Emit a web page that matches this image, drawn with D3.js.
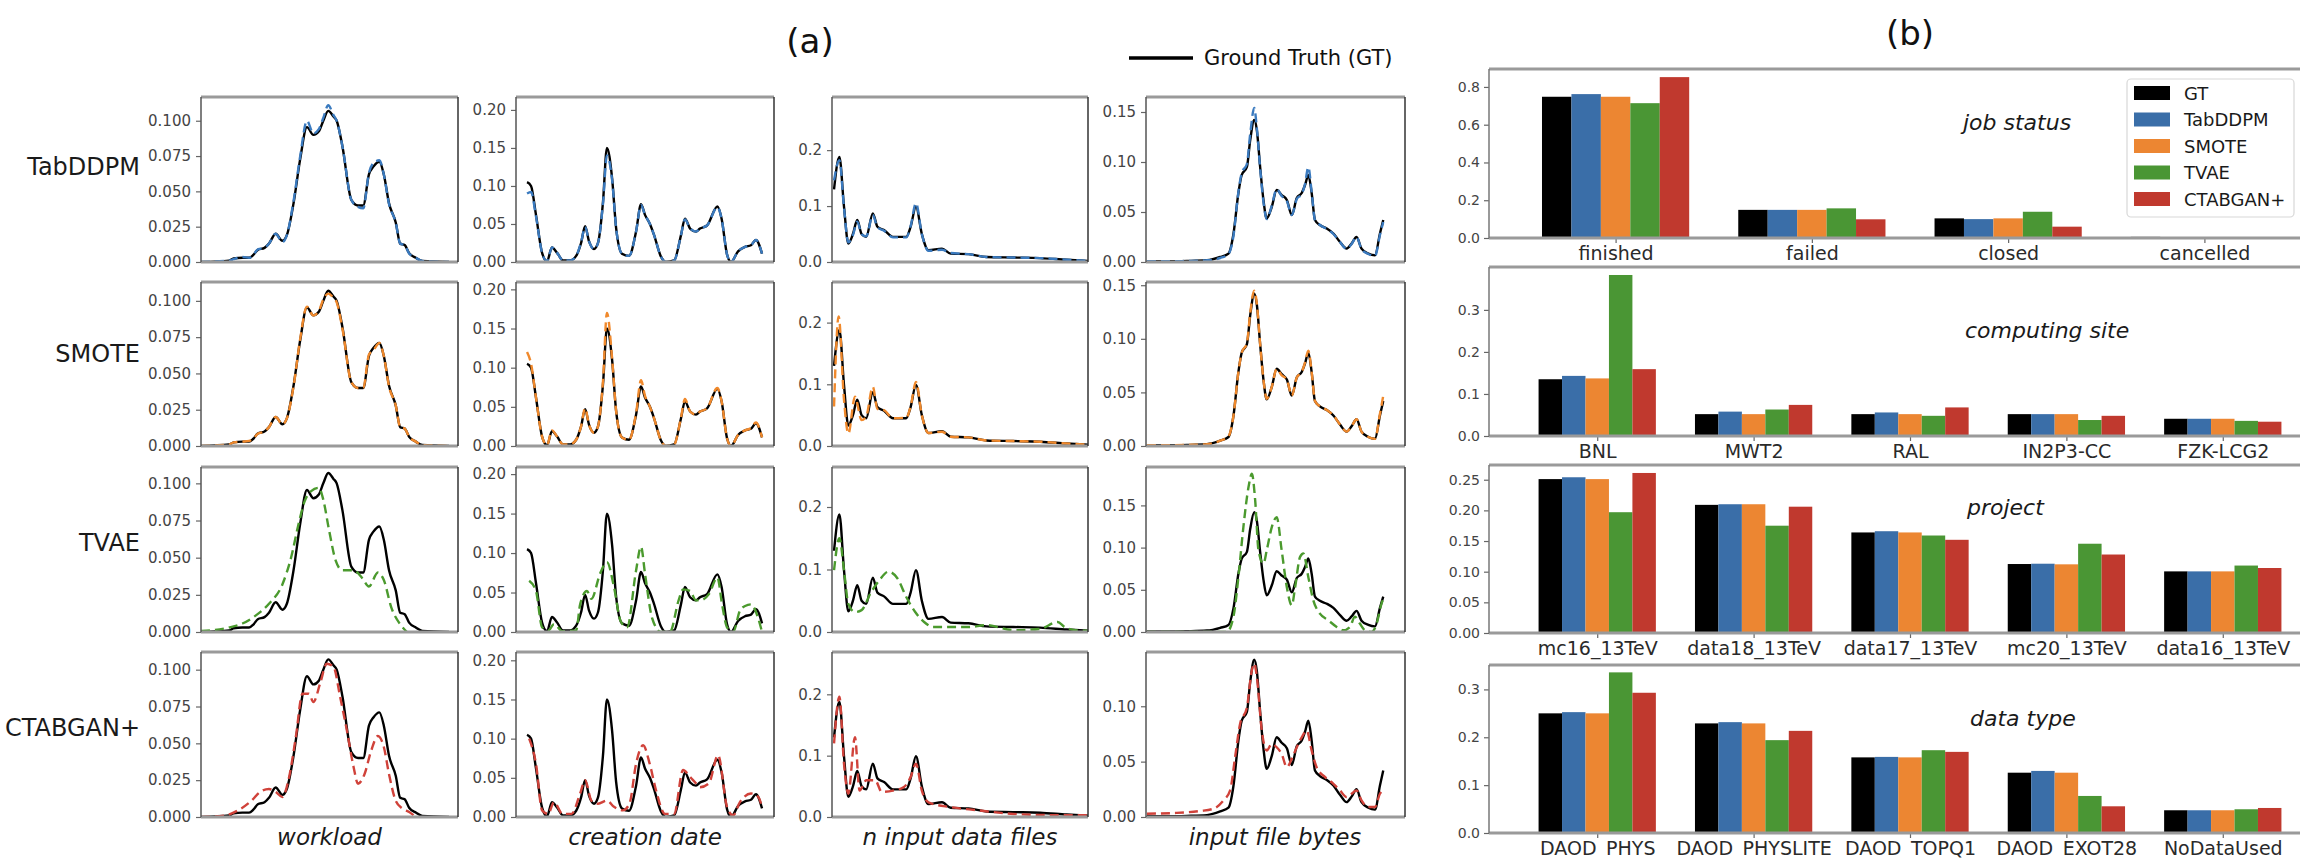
<!DOCTYPE html>
<html><head><meta charset="utf-8">
<script src="https://cdn.jsdelivr.net/npm/d3@7"></script>
<style>
body{margin:0;background:#fff;}
svg{display:block;font-family:"DejaVu Sans",sans-serif;}
</style></head><body>
<svg id="chart" width="2300" height="858"></svg>
<script>
// ---------------- DATA ----------------
const models = ["GT","TabDDPM","SMOTE","TVAE","CTABGAN+"];
const rowModels = ["TabDDPM","SMOTE","TVAE","CTABGAN+"];
const features = ["workload","creation date","n input data files","input file bytes"];

// (a) KDE curves: [normalized x, density]
const wlGT = [[0,0],[0.113,0.001],[0.131,0.0025],[0.167,0.003],[0.194,0.003],[0.211,0.005],[0.229,0.0086],[0.256,0.010],[0.274,0.013],[0.301,0.020],[0.328,0.015],[0.346,0.019],[0.373,0.0415],[0.400,0.073],[0.427,0.0955],[0.453,0.090],[0.475,0.0925],[0.493,0.100],[0.513,0.107],[0.534,0.103],[0.547,0.100],[0.570,0.082],[0.606,0.044],[0.633,0.040],[0.654,0.040],[0.677,0.062],[0.695,0.0675],[0.719,0.071],[0.737,0.062],[0.758,0.0415],[0.785,0.028],[0.803,0.013],[0.821,0.012],[0.839,0.0063],[0.866,0.003],[0.892,0.0007],[1.0,0]];
const wlTab = [[0,0],[0.113,0.001],[0.131,0.002],[0.167,0.0035],[0.194,0.003],[0.211,0.005],[0.229,0.009],[0.256,0.010],[0.274,0.013],[0.301,0.020],[0.328,0.014],[0.346,0.019],[0.373,0.043],[0.400,0.075],[0.427,0.100],[0.453,0.091],[0.475,0.094],[0.493,0.102],[0.513,0.111],[0.534,0.104],[0.547,0.100],[0.570,0.082],[0.606,0.044],[0.633,0.039],[0.654,0.038],[0.677,0.063],[0.695,0.070],[0.719,0.072],[0.737,0.062],[0.758,0.041],[0.785,0.028],[0.803,0.013],[0.821,0.012],[0.839,0.006],[0.866,0.003],[0.892,0.0007],[1.0,0]];
const wlSmote = [[0,0],[0.113,0.001],[0.131,0.0025],[0.167,0.003],[0.194,0.0035],[0.211,0.005],[0.229,0.0085],[0.256,0.010],[0.274,0.013],[0.301,0.020],[0.328,0.015],[0.346,0.019],[0.373,0.041],[0.400,0.074],[0.427,0.096],[0.453,0.090],[0.475,0.093],[0.493,0.101],[0.513,0.105],[0.534,0.102],[0.547,0.099],[0.570,0.081],[0.606,0.044],[0.633,0.040],[0.654,0.040],[0.677,0.063],[0.695,0.066],[0.719,0.071],[0.737,0.062],[0.758,0.041],[0.785,0.028],[0.803,0.013],[0.821,0.012],[0.839,0.0063],[0.866,0.003],[0.892,0.0007],[1.0,0]];
const wlTvae = [[0,0.0007],[0.113,0.003],[0.167,0.0057],[0.220,0.011],[0.274,0.019],[0.328,0.032],[0.364,0.0506],[0.391,0.071],[0.418,0.088],[0.444,0.0948],[0.475,0.097],[0.493,0.089],[0.516,0.0687],[0.543,0.048],[0.570,0.0415],[0.615,0.0415],[0.651,0.036],[0.677,0.0306],[0.713,0.040],[0.737,0.035],[0.767,0.0166],[0.803,0.0052],[0.830,0]];
const wlCtab = [[0,0],[0.095,0.001],[0.149,0.0045],[0.203,0.011],[0.238,0.017],[0.274,0.019],[0.301,0.017],[0.328,0.0136],[0.355,0.027],[0.382,0.054],[0.409,0.0837],[0.435,0.0837],[0.453,0.078],[0.480,0.0905],[0.507,0.104],[0.534,0.102],[0.561,0.0814],[0.588,0.0588],[0.615,0.034],[0.633,0.0226],[0.659,0.029],[0.686,0.045],[0.713,0.055],[0.737,0.0475],[0.758,0.029],[0.785,0.011],[0.812,0.0057],[0.839,0.0034],[0.866,0]];

const cdGT = [[0,0.105],[0.017,0.100],[0.038,0.062],[0.064,0.012],[0.085,0.001],[0.106,0.019],[0.128,0.012],[0.153,0.002],[0.183,0.002],[0.209,0.008],[0.230,0.025],[0.247,0.047],[0.264,0.027],[0.285,0.017],[0.302,0.025],[0.323,0.078],[0.340,0.150],[0.362,0.110],[0.379,0.045],[0.404,0.011],[0.434,0.008],[0.464,0.040],[0.485,0.076],[0.502,0.062],[0.523,0.050],[0.540,0.036],[0.570,0.007],[0.591,0.000],[0.626,0.002],[0.655,0.035],[0.672,0.057],[0.694,0.044],[0.719,0.040],[0.736,0.044],[0.766,0.048],[0.810,0.073],[0.828,0.057],[0.851,0.010],[0.868,0.000],[0.898,0.014],[0.928,0.020],[0.953,0.022],[0.974,0.029],[1.0,0.011]];
const cdTab = [[0,0.090],[0.017,0.092],[0.038,0.060],[0.064,0.012],[0.085,0.001],[0.106,0.019],[0.128,0.012],[0.153,0.002],[0.183,0.002],[0.209,0.008],[0.230,0.026],[0.247,0.046],[0.264,0.027],[0.285,0.017],[0.302,0.025],[0.323,0.076],[0.340,0.140],[0.362,0.108],[0.379,0.045],[0.404,0.011],[0.434,0.008],[0.464,0.040],[0.485,0.075],[0.502,0.062],[0.523,0.050],[0.540,0.036],[0.570,0.007],[0.591,0.000],[0.626,0.002],[0.655,0.035],[0.672,0.056],[0.694,0.044],[0.719,0.040],[0.736,0.044],[0.766,0.048],[0.810,0.072],[0.828,0.057],[0.851,0.010],[0.868,0.000],[0.898,0.014],[0.928,0.020],[0.953,0.022],[0.974,0.029],[1.0,0.011]];
const cdSmote = [[0,0.120],[0.017,0.105],[0.038,0.062],[0.064,0.012],[0.085,0.001],[0.106,0.020],[0.128,0.012],[0.153,0.002],[0.183,0.002],[0.209,0.008],[0.230,0.025],[0.247,0.048],[0.264,0.027],[0.285,0.017],[0.302,0.025],[0.323,0.082],[0.340,0.170],[0.362,0.112],[0.379,0.045],[0.404,0.011],[0.434,0.008],[0.464,0.042],[0.485,0.084],[0.502,0.064],[0.523,0.050],[0.540,0.036],[0.570,0.007],[0.591,0.000],[0.626,0.002],[0.655,0.036],[0.672,0.060],[0.694,0.044],[0.719,0.040],[0.736,0.044],[0.766,0.048],[0.810,0.074],[0.828,0.057],[0.851,0.010],[0.868,0.000],[0.898,0.014],[0.928,0.020],[0.953,0.023],[0.974,0.030],[1.0,0.011]];
const cdTvae = [[0.009,0.065],[0.038,0.052],[0.064,0.006],[0.090,0.002],[0.115,0.010],[0.151,0.001],[0.209,0.002],[0.226,0.035],[0.255,0.052],[0.274,0.042],[0.311,0.074],[0.340,0.0885],[0.370,0.057],[0.398,0.014],[0.426,0.006],[0.464,0.078],[0.485,0.108],[0.502,0.074],[0.532,0.018],[0.570,0.000],[0.608,0.000],[0.645,0.040],[0.664,0.054],[0.694,0.052],[0.719,0.040],[0.736,0.040],[0.774,0.048],[0.810,0.069],[0.830,0.035],[0.851,0.006],[0.877,0.000],[0.906,0.027],[0.928,0.033],[0.953,0.035],[0.983,0.018],[1.0,0.000]];
const cdCtab = [[0.009,0.100],[0.038,0.068],[0.064,0.0085],[0.090,0.004],[0.115,0.019],[0.151,0.004],[0.189,0.004],[0.226,0.030],[0.247,0.047],[0.274,0.021],[0.302,0.017],[0.340,0.021],[0.370,0.013],[0.408,0.0085],[0.436,0.017],[0.464,0.068],[0.494,0.0915],[0.522,0.068],[0.549,0.034],[0.587,0.004],[0.626,0.004],[0.664,0.060],[0.694,0.051],[0.719,0.043],[0.736,0.038],[0.774,0.043],[0.813,0.079],[0.851,0.013],[0.877,0.002],[0.906,0.019],[0.953,0.030],[0.983,0.026],[1.0,0.013]];

const nfGT = [[0.005,0.13],[0.026,0.188],[0.044,0.099],[0.061,0.033],[0.079,0.050],[0.096,0.075],[0.113,0.050],[0.131,0.045],[0.157,0.087],[0.175,0.063],[0.201,0.057],[0.236,0.045],[0.288,0.045],[0.305,0.063],[0.326,0.099],[0.349,0.050],[0.375,0.021],[0.428,0.024],[0.462,0.015],[0.532,0.014],[0.602,0.009],[0.707,0.008],[0.812,0.007],[0.916,0.004],[1.0,0.002]];
const nfTab = [[0.005,0.146],[0.026,0.182],[0.044,0.097],[0.061,0.035],[0.079,0.048],[0.096,0.072],[0.113,0.050],[0.131,0.046],[0.157,0.084],[0.175,0.062],[0.201,0.056],[0.236,0.044],[0.288,0.044],[0.305,0.064],[0.326,0.105],[0.349,0.050],[0.375,0.020],[0.428,0.022],[0.462,0.016],[0.532,0.014],[0.602,0.009],[0.707,0.008],[0.812,0.007],[0.916,0.004],[1.0,0.002]];
const nfSmote = [[0.005,0.064],[0.023,0.210],[0.044,0.075],[0.061,0.020],[0.087,0.080],[0.113,0.042],[0.131,0.048],[0.157,0.096],[0.175,0.060],[0.201,0.058],[0.236,0.045],[0.288,0.046],[0.305,0.064],[0.326,0.104],[0.349,0.050],[0.375,0.021],[0.428,0.023],[0.462,0.015],[0.532,0.014],[0.602,0.009],[0.707,0.008],[0.812,0.007],[0.916,0.004],[1.0,0.002]];
const nfTvae = [[0.005,0.099],[0.026,0.150],[0.044,0.099],[0.061,0.045],[0.087,0.032],[0.113,0.035],[0.148,0.062],[0.183,0.083],[0.218,0.0965],[0.253,0.086],[0.288,0.056],[0.323,0.032],[0.358,0.016],[0.393,0.008],[0.532,0.008],[0.602,0.011],[0.707,0.003],[0.812,0.005],[0.881,0.016],[0.908,0.008],[0.951,0.003],[1.0,0.002]];
const nfCtab = [[0.005,0.120],[0.026,0.196],[0.044,0.087],[0.061,0.038],[0.087,0.130],[0.105,0.043],[0.131,0.060],[0.166,0.060],[0.192,0.041],[0.236,0.043],[0.279,0.049],[0.305,0.065],[0.326,0.087],[0.349,0.043],[0.375,0.024],[0.462,0.016],[0.567,0.011],[0.707,0.005],[0.881,0.003],[1.0,0.003]];

const fbGT = [[0,0.0007],[0.085,0.0007],[0.169,0.001],[0.254,0.0017],[0.310,0.005],[0.345,0.0084],[0.366,0.028],[0.387,0.069],[0.401,0.087],[0.423,0.095],[0.437,0.122],[0.454,0.142],[0.465,0.132],[0.479,0.095],[0.493,0.062],[0.507,0.0435],[0.528,0.055],[0.549,0.072],[0.570,0.067],[0.592,0.062],[0.613,0.047],[0.634,0.064],[0.655,0.069],[0.669,0.077],[0.683,0.087],[0.697,0.069],[0.711,0.042],[0.732,0.037],[0.761,0.0335],[0.789,0.0285],[0.817,0.020],[0.845,0.0134],[0.866,0.0184],[0.887,0.025],[0.908,0.0134],[0.937,0.0084],[0.965,0.0067],[0.986,0.0285],[1.0,0.042]];
const fbTab = [[0,0.0007],[0.085,0.0007],[0.169,0.001],[0.254,0.0017],[0.310,0.004],[0.345,0.008],[0.366,0.026],[0.387,0.070],[0.401,0.089],[0.423,0.098],[0.437,0.128],[0.454,0.154],[0.465,0.134],[0.479,0.094],[0.493,0.060],[0.507,0.043],[0.528,0.056],[0.549,0.073],[0.570,0.066],[0.592,0.061],[0.613,0.047],[0.634,0.063],[0.655,0.068],[0.669,0.078],[0.683,0.095],[0.697,0.070],[0.711,0.042],[0.732,0.037],[0.761,0.033],[0.789,0.028],[0.817,0.020],[0.845,0.013],[0.866,0.018],[0.887,0.025],[0.908,0.013],[0.937,0.008],[0.965,0.006],[0.986,0.027],[1.0,0.040]];
const fbSmote = [[0,0.0007],[0.085,0.0007],[0.169,0.001],[0.254,0.0017],[0.310,0.005],[0.345,0.009],[0.366,0.028],[0.387,0.069],[0.401,0.087],[0.423,0.096],[0.437,0.124],[0.454,0.145],[0.465,0.133],[0.479,0.095],[0.493,0.062],[0.507,0.044],[0.528,0.055],[0.549,0.072],[0.570,0.066],[0.592,0.062],[0.613,0.047],[0.634,0.064],[0.655,0.069],[0.669,0.078],[0.683,0.089],[0.697,0.069],[0.711,0.042],[0.732,0.037],[0.761,0.0335],[0.789,0.0285],[0.817,0.020],[0.845,0.0134],[0.866,0.0184],[0.887,0.025],[0.908,0.0134],[0.937,0.0084],[0.965,0.0067],[0.986,0.030],[1.0,0.047]];
const fbTvae = [[0,0],[0.225,0],[0.338,0],[0.366,0.018],[0.387,0.065],[0.408,0.124],[0.430,0.172],[0.444,0.1875],[0.458,0.156],[0.472,0.097],[0.493,0.081],[0.507,0.097],[0.528,0.124],[0.549,0.136],[0.570,0.097],[0.592,0.053],[0.613,0.0316],[0.627,0.053],[0.648,0.089],[0.662,0.093],[0.683,0.065],[0.704,0.0375],[0.732,0.0217],[0.768,0.0138],[0.803,0.006],[0.831,0.002],[0.859,0.006],[0.880,0.018],[0.901,0.010],[0.923,0.002],[0.951,0],[0.972,0.010],[0.993,0.034],[1.0,0.039]];
const fbCtab = [[0,0.003],[0.113,0.0036],[0.225,0.0054],[0.282,0.0075],[0.324,0.015],[0.352,0.024],[0.373,0.054],[0.394,0.084],[0.423,0.099],[0.444,0.1325],[0.454,0.1386],[0.465,0.1265],[0.486,0.078],[0.507,0.060],[0.528,0.066],[0.549,0.063],[0.570,0.057],[0.592,0.045],[0.613,0.0527],[0.634,0.063],[0.655,0.072],[0.676,0.078],[0.697,0.060],[0.718,0.045],[0.754,0.036],[0.789,0.030],[0.817,0.024],[0.845,0.018],[0.866,0.021],[0.887,0.024],[0.908,0.015],[0.937,0.009],[0.965,0.009],[0.986,0.021],[1.0,0.024]];

// y-axis upper limits per row (model) and column (feature)
const yMaxA = [
  [0.1168, 0.217, 0.295, 0.165],
  [0.113, 0.2094, 0.2658, 0.153],
  [0.111, 0.209, 0.264, 0.1955],
  [0.112, 0.2106, 0.269, 0.149]
];
const yTicksA = [[0,0.025,0.05,0.075,0.1],[0,0.05,0.1,0.15,0.2],[0,0.1,0.2],[0,0.05,0.1,0.15]];
const yFmtA = [".3f",".2f",".1f",".2f"];
const xDomA = [[0,1.036],[-0.047,1.051],[-0.003,1.0],[-0.004,1.092]];

// (b) category proportions
const jobCats = ["finished","failed","closed","cancelled"];
const jobGT    = [0.748, 0.149, 0.104, 0.006];
const jobTab   = [0.762, 0.149, 0.100, 0.004];
const jobSmote = [0.748, 0.149, 0.104, 0.005];
const jobTvae  = [0.714, 0.157, 0.139, 0.003];
const jobCtab  = [0.852, 0.099, 0.060, 0.003];

const siteCats = ["BNL","MWT2","RAL","IN2P3-CC","FZK-LCG2"];
const siteGT    = [0.135, 0.052, 0.052, 0.052, 0.041];
const siteTab   = [0.143, 0.058, 0.056, 0.052, 0.041];
const siteSmote = [0.137, 0.052, 0.052, 0.052, 0.041];
const siteTvae  = [0.383, 0.063, 0.048, 0.038, 0.036];
const siteCtab  = [0.159, 0.074, 0.068, 0.048, 0.034];

const projCats = ["mc16_13TeV","data18_13TeV","data17_13TeV","mc20_13TeV","data16_13TeV"];
const projGT    = [0.251, 0.209, 0.164, 0.1125, 0.1005];
const projTab   = [0.254, 0.210, 0.166, 0.113, 0.1005];
const projSmote = [0.251, 0.210, 0.164, 0.112, 0.1005];
const projTvae  = [0.197, 0.175, 0.159, 0.1456, 0.110];
const projCtab  = [0.261, 0.206, 0.152, 0.128, 0.106];

const typeCats = ["DAOD_PHYS","DAOD_PHYSLITE","DAOD_TOPQ1","DAOD_EXOT28","NoDataUsed"];
const typeGT    = [0.250, 0.229, 0.158, 0.126, 0.0475];
const typeTab   = [0.2525, 0.2316, 0.159, 0.1297, 0.0475];
const typeSmote = [0.250, 0.229, 0.158, 0.126, 0.0475];
const typeTvae  = [0.3356, 0.194, 0.173, 0.0774, 0.0496];
const typeCtab  = [0.293, 0.2134, 0.1695, 0.0558, 0.0523];

const barTitles = ["job status","computing site","project","data type"];
const barYMax = [0.895, 0.402, 0.274, 0.351];
const barTicks = [[0,0.2,0.4,0.6,0.8],[0,0.1,0.2,0.3],[0,0.05,0.1,0.15,0.2,0.25],[0,0.1,0.2,0.3]];
const barFmt = [".1f",".1f",".2f",".1f"];

// ---------------- STYLE / LAYOUT ----------------
const lineColors = {"TabDDPM":"#3a7abf","SMOTE":"#f0892c","TVAE":"#4b9a2e","CTABGAN+":"#d0423a"};
const barColors = ["#000000","#3a6ea8","#ec8632","#4a9634","#c0392e"];
const colL = [201,516,832,1146], colR = [458,774,1088,1405];
const rowT = [97,282,467,652], rowB = [262,446,632,817];
const rowLabelY = [175,362,551,736];

const svg = d3.select("#chart");
svg.append("rect").attr("width",2300).attr("height",858).attr("fill","#fff");

function styleAxis(g, fs, col){
  g.attr("font-family",null).attr("font-size",null);
  g.select(".domain").remove();
  g.selectAll(".tick line").attr("stroke","#666").attr("stroke-width",1.2);
  g.selectAll(".tick text").attr("font-size",fs).attr("fill",col).attr("font-family","DejaVu Sans");
}

// Titles
svg.append("text").attr("x",810).attr("y",53).attr("text-anchor","middle").attr("font-size",34).attr("fill","#111").text("(a)");
svg.append("text").attr("x",1910).attr("y",45).attr("text-anchor","middle").attr("font-size",34).attr("fill","#111").text("(b)");
svg.append("line").attr("x1",1129).attr("x2",1193).attr("y1",58).attr("y2",58).attr("stroke","#000").attr("stroke-width",3.5);
svg.append("text").attr("x",1204).attr("y",65).attr("font-size",21).attr("fill","#111").text("Ground Truth (GT)");

// ---------------- PANEL (a) ----------------
const curves = [
  [wlGT, wlTab, wlSmote, wlTvae, wlCtab],
  [cdGT, cdTab, cdSmote, cdTvae, cdCtab],
  [nfGT, nfTab, nfSmote, nfTvae, nfCtab],
  [fbGT, fbTab, fbSmote, fbTvae, fbCtab]
];

rowModels.forEach((m, r) => {
  svg.append("text").attr("x",140).attr("y",rowLabelY[r]).attr("text-anchor","end")
    .attr("font-size",24).attr("fill","#1a1a1a").text(m);
  features.forEach((f, c) => {
    const x = d3.scaleLinear().domain(xDomA[c]).range([colL[c], colR[c]]);
    const y = d3.scaleLinear().domain([0, yMaxA[r][c]]).range([rowB[r], rowT[r]]);
    const g = svg.append("g");
    const cid = `clip-${r}-${c}`;
    g.append("clipPath").attr("id",cid).append("rect")
      .attr("x",colL[c]).attr("y",rowT[r]).attr("width",colR[c]-colL[c]).attr("height",rowB[r]-rowT[r]);
    const line = d3.line().x(d=>x(d[0])).y(d=>y(d[1])).curve(d3.curveMonotoneX);
    const cg = g.append("g").attr("clip-path",`url(#${cid})`);
    cg.append("path").datum(curves[c][0]).attr("d",line).attr("fill","none")
      .attr("stroke","#000").attr("stroke-width",2.4).attr("stroke-linejoin","round");
    cg.append("path").datum(curves[c][r+1]).attr("d",line).attr("fill","none")
      .attr("stroke",lineColors[m]).attr("stroke-width",2.4).attr("stroke-dasharray","9,5");
    const ticks = yTicksA[c].filter(t => t <= yMaxA[r][c] + 1e-9);
    const ag = g.append("g").attr("transform",`translate(${colL[c]},0)`)
      .call(d3.axisLeft(y).tickValues(ticks).tickFormat(d3.format(yFmtA[c])).tickSize(5).tickPadding(5));
    styleAxis(ag, 15, "#444");
    // frame
    g.append("line").attr("x1",colL[c]).attr("x2",colR[c]).attr("y1",rowT[r]).attr("y2",rowT[r]).attr("stroke","#9a9a9a").attr("stroke-width",3);
    g.append("line").attr("x1",colL[c]).attr("x2",colR[c]).attr("y1",rowB[r]).attr("y2",rowB[r]).attr("stroke","#9a9a9a").attr("stroke-width",3);
    g.append("line").attr("x1",colL[c]).attr("x2",colL[c]).attr("y1",rowT[r]).attr("y2",rowB[r]).attr("stroke","#555").attr("stroke-width",1.5);
    g.append("line").attr("x1",colR[c]).attr("x2",colR[c]).attr("y1",rowT[r]).attr("y2",rowB[r]).attr("stroke","#333").attr("stroke-width",1.5);
  });
});
const featX = [329.5, 645, 960, 1275];
features.forEach((f,c) => {
  svg.append("text").attr("x",featX[c]).attr("y",845).attr("text-anchor","middle")
    .attr("font-size",23).attr("font-style","italic").attr("fill","#1a1a1a").text(f);
});

// ---------------- PANEL (b) ----------------
const barSets = [
  {cats: jobCats, vals: [jobGT, jobTab, jobSmote, jobTvae, jobCtab]},
  {cats: siteCats, vals: [siteGT, siteTab, siteSmote, siteTvae, siteCtab]},
  {cats: projCats, vals: [projGT, projTab, projSmote, projTvae, projCtab]},
  {cats: typeCats, vals: [typeGT, typeTab, typeSmote, typeTvae, typeCtab]}
];
const barTop = [69,267,465,665], barBot = [238,436,633,833];
const barPad = [0.645,0.692,0.692,0.692];
const barLeft = 1489, barRight = 2331;
const titleXY = [[1963,130],[1965,338],[1967,515],[1970,726]];
const barW = 0.15;

barSets.forEach((bs, k) => {
  const n = bs.cats.length;
  const x = d3.scaleLinear().domain([-barPad[k], n-1+barPad[k]]).range([barLeft, barRight]);
  const y = d3.scaleLinear().domain([0, barYMax[k]]).range([barBot[k], barTop[k]]);
  const g = svg.append("g");
  bs.vals.forEach((vals, m) => {
    g.selectAll(null).data(vals).enter().append("rect")
      .attr("x",(d,i)=>x(i + (m-2.5)*barW))
      .attr("width",x(barW)-x(0))
      .attr("y",d=>y(d))
      .attr("height",d=>y(0)-y(d))
      .attr("fill",barColors[m]);
  });
  const ay = g.append("g").attr("transform",`translate(${barLeft},0)`)
    .call(d3.axisLeft(y).tickValues(barTicks[k]).tickFormat(d3.format(barFmt[k])).tickSize(5).tickPadding(4));
  styleAxis(ay, 14, "#444");
  const ax = g.append("g").attr("transform",`translate(0,${barBot[k]})`)
    .call(d3.axisBottom(x).tickValues(d3.range(n)).tickFormat(i=>bs.cats[i]).tickSize(5).tickPadding(4));
  styleAxis(ax, 19, "#2a2a2a");
  g.append("line").attr("x1",barLeft).attr("x2",2300).attr("y1",barTop[k]).attr("y2",barTop[k]).attr("stroke","#9a9a9a").attr("stroke-width",3);
  g.append("line").attr("x1",barLeft).attr("x2",2300).attr("y1",barBot[k]).attr("y2",barBot[k]).attr("stroke","#9a9a9a").attr("stroke-width",3);
  g.append("line").attr("x1",barLeft).attr("x2",barLeft).attr("y1",barTop[k]).attr("y2",barBot[k]).attr("stroke","#777").attr("stroke-width",1.5);
  g.append("text").attr("x",titleXY[k][0]).attr("y",titleXY[k][1]).attr("font-size",22)
    .attr("font-style","italic").attr("fill","#1a1a1a").text(barTitles[k]);
});

// legend (b)
const lg = svg.append("g");
lg.append("rect").attr("x",2127).attr("y",79).attr("width",167).attr("height",138).attr("rx",4)
  .attr("fill","#fff").attr("fill-opacity",0.85).attr("stroke","#d8d8d8").attr("stroke-width",1.2);
const legY = d3.scalePoint().domain(models).range([93,199]);
models.forEach((m,i) => {
  lg.append("rect").attr("x",2134).attr("y",legY(m)-7).attr("width",36).attr("height",14).attr("fill",barColors[i]);
  lg.append("text").attr("x",2184).attr("y",legY(m)+6.5).attr("font-size",18).attr("fill","#1a1a1a").text(m);
});
</script>
</body></html>
